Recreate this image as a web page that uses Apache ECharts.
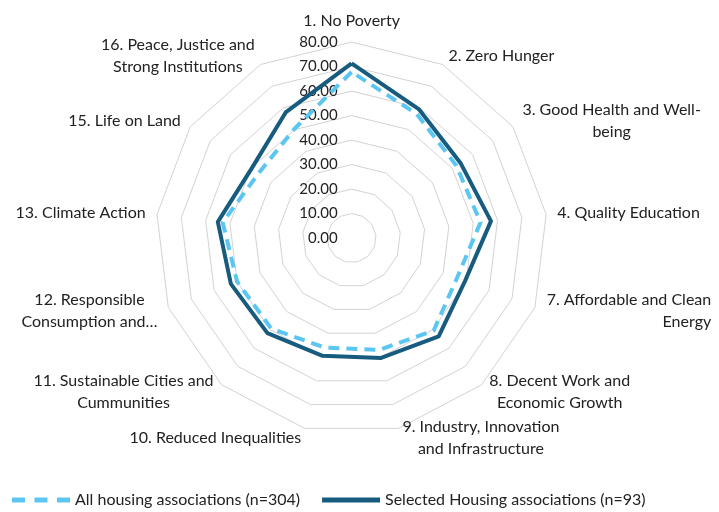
<!DOCTYPE html>
<html>
<head>
<meta charset="utf-8">
<script src="https://cdn.jsdelivr.net/npm/echarts@6/dist/echarts.min.js"></script>
<style>
html,body{margin:0;padding:0;background:#fff;}
#chart{width:719px;height:512px;}
</style>
</head>
<body>
<div id="chart"></div>
<script>
// Categories in clockwise order starting at the top
var categories = [
  '1. No Poverty',
  '2. Zero Hunger',
  '3. Good Health and Well-\nbeing',
  '4. Quality Education',
  '7. Affordable and Clean\nEnergy',
  '8. Decent Work and\nEconomic Growth',
  '9. Industry, Innovation\nand Infrastructure',
  '10. Reduced Inequalities',
  '11. Sustainable Cities and\nCummunities',
  '12. Responsible\nConsumption and\u2026',
  '13. Climate Action',
  '15. Life on Land',
  '16. Peace, Justice and\nStrong Institutions'
];
var allAssociations = [67.8, 57.2, 52.0, 53.0, 46.0, 50.5, 47.0, 46.0, 49.4, 50.0, 53.0, 46.3, 50.3];
var selectedAssociations = [71.3, 59.3, 54.0, 57.3, 49.5, 53.6, 50.4, 49.5, 51.8, 52.7, 55.0, 49.7, 57.9];
var seriesNames = ['All housing associations (n=304)', 'Selected Housing associations (n=93)'];
var axisMax = 80;
var axisSplits = 8;

// ECharts radar runs counter-clockwise; reorder so the chart reads clockwise
function clockwise(arr) {
  return [arr[0]].concat(arr.slice(1).reverse());
}

var FONT = 'Lato, "Open Sans", sans-serif';
var NAME_SIZE = 16;
var lineAlign = {4: 'right'};
var measureCtx = document.createElement('canvas').getContext('2d');
measureCtx.font = NAME_SIZE + 'px ' + FONT;
var rich = {};
categories.forEach(function (c, i) {
  var lines = c.split('\n');
  var w = 0;
  lines.forEach(function (l) { w = Math.max(w, measureCtx.measureText(l).width); });
  rich['n' + i] = {width: Math.ceil(w) + 2, align: lineAlign[i] || 'center',
    fontSize: NAME_SIZE, fontFamily: FONT, color: '#222222', lineHeight: 22};
});

var indicators = clockwise(categories).map(function (name, k) {
  var ind = {name: name, min: 0, max: axisMax};
  if (k === 0) {
    ind.axisLabel = {show: true};
  }
  return ind;
});

var chart = echarts.init(document.getElementById('chart'), null, {renderer: 'canvas'});
chart.setOption({
  animation: false,
  backgroundColor: '#ffffff',
  textStyle: {fontFamily: FONT},
  legend: {
    left: 12,
    bottom: 4,
    padding: 0,
    itemGap: 22,
    itemWidth: 58,
    itemHeight: 5,
    textStyle: {fontSize: NAME_SIZE, color: '#222222', fontFamily: FONT},
    itemStyle: {borderWidth: 0},
    data: [
      {name: seriesNames[0], icon: 'path://M0,0h13v5h-13z M22.5,0h13v5h-13z M45,0h13v5h-13z', itemStyle: {color: '#5cc6f2'}},
      {name: seriesNames[1], icon: 'path://M0,0h58v5h-58z', itemStyle: {color: '#175b7f'}}
    ]
  },
  radar: {
    center: ['48.9%', '46.5%'],
    radius: 196,
    startAngle: 90,
    shape: 'polygon',
    splitNumber: axisSplits,
    nameGap: 10,
    indicator: indicators,
    axisName: {
      color: '#222222',
      fontSize: NAME_SIZE,
      fontFamily: FONT,
      lineHeight: 22,
      formatter: function (name) {
        var i = categories.indexOf(name);
        return name.split('\n').map(function (l) { return '{n' + i + '|' + l + '}'; }).join('\n');
      },
      rich: rich
    },
    axisLine: {show: false},
    axisTick: {show: false},
    axisLabel: {
      show: false,
      color: '#222222',
      fontSize: 15,
      fontFamily: FONT,
      margin: 14,
      formatter: function (v) { return Number(v).toFixed(2); }
    },
    splitLine: {lineStyle: {color: '#d3d3d3', width: 1}},
    splitArea: {show: false}
  },
  series: [
    {
      type: 'radar',
      name: seriesNames[1],
      z: 2,
      symbol: 'none',
      itemStyle: {color: '#175b7f'},
      lineStyle: {color: '#175b7f', width: 4},
      data: [{name: seriesNames[1], value: clockwise(selectedAssociations)}]
    },
    {
      type: 'radar',
      name: seriesNames[0],
      z: 3,
      symbol: 'none',
      itemStyle: {color: '#5cc6f2'},
      lineStyle: {color: '#5cc6f2', width: 4, type: [11, 7]},
      data: [{name: seriesNames[0], value: clockwise(allAssociations)}]
    }
  ]
});
</script>
</body>
</html>
